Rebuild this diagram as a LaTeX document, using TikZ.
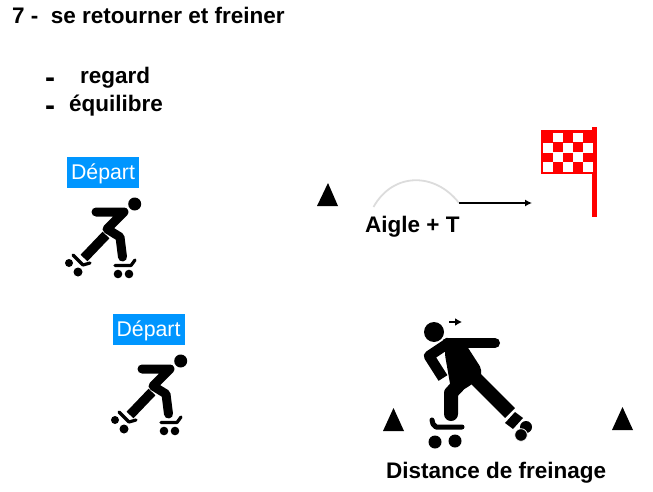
\documentclass[tikz,border=0pt]{standalone}
\usepackage{fontspec}
\setmainfont{Liberation Sans}
\usetikzlibrary{arrows.meta}
\tikzset{
 x=1pt,y=-1pt,
 lbl/.style={inner sep=0pt,anchor=base west,font=\fontsize{22.5}{26}\selectfont\bfseries},
 dashmark/.style={inner sep=0pt,anchor=base west,font=\fontsize{30}{32}\selectfont\bfseries},
 depart/.style={fill=cyan1,text=white,minimum width=72pt,minimum height=31pt,inner sep=0pt},
 departtext/.style={text=white,inner sep=0pt,font=\fontsize{21.3}{24}\selectfont},
 tri/.style={fill=black,draw=none},
 limb/.style={line width=#1,line cap=round,line join=round,draw=black},
 limb/.default=9pt,
 flow/.style={draw=black,line width=1.3pt,-{Latex[length=7pt,width=7pt]}},
 skater/.pic={
  \fill (134.7,204) circle (6.5);
  \draw[limb=9pt] (96,212) -- (124,212) -- (107,229) -- (120,237) -- (122.5,257);
  \draw[limb=9.5pt,line cap=butt] (106,235) -- (84,258);
  \draw[limb=3.2pt] (115,265.5) -- (131,265.5) -- (135,260);
  \draw[limb=3.2pt] (73,255) -- (83,265) -- (90,263);
  \fill (118,274) circle (4.3) (129,274) circle (4.3) (69,263) circle (4) (78,272) circle (4.5);
 }
}
\definecolor{cyan1}{RGB}{0,150,255}
\definecolor{flagred}{RGB}{255,0,0}
\definecolor{arcgray}{RGB}{220,220,220}
\begin{document}
\begin{tikzpicture}
\useasboundingbox (0,0) rectangle (653,492);
\node[lbl] (title) at (12,24) {7 -\ \ se retourner et freiner};
\node[dashmark] (d1) at (45,88) {-};
\node[lbl] (r) at (80,84) {regard};
\node[dashmark] (d2) at (45,115.5) {-};
\node[lbl] (e) at (69,112) {équilibre};
\node[depart] (dep1) at (103,172.5) {};
\node[departtext] at (103,173.5) {Départ};
\node[depart] (dep2) at (148.5,329.5) {};
\node[departtext] at (148.5,330.5) {Départ};
\pic (sk1) at (0,0) {skater};
\pic (sk2) at (46,157) {skater};
% cones
\fill[tri] (328,183) -- (338,206) -- (317,206) -- cycle;
\fill[tri] (393.5,408) -- (404,431) -- (383,431) -- cycle;
\fill[tri] (622.5,407) -- (633,430) -- (612,430) -- cycle;
% arc and arrow
\coordinate (a0) at (373.5,207);
\coordinate (a1) at (459,203);
\coordinate (a2) at (532,203);
\draw[arcgray,line width=1.8pt] (a0) .. controls (393,172) and (435,172) .. (a1);
\draw[flow] (a1) -- (a2);
\node[lbl] (aigle) at (365,232) {Aigle + T};
% flag
\fill[flagred] (541,130) rectangle (593,174);
\fill[flagred] (592,127) rectangle (597,217);
\foreach \cx/\cy in {553/133,573/133,543/143,563/143,583/143,553/152,573/152,543/162,563/162,583/162}
  \fill[white] (\cx,\cy) rectangle ++(9.7,9.5);
% big skater
\fill (434,332) circle (10);
\coordinate (m0) at (449,322);
\coordinate (m1) at (462,322);
\draw[black,line width=1.6pt,-{Latex[length=7pt,width=8pt]}] (m0) -- (m1);
\draw[limb=10pt] (447,343) -- (495,343);
\draw[limb=10.5pt,line cap=butt] (450,342) -- (429,356) -- (443,378);
\fill[rounded corners=2pt] (445,338) -- (463,340) -- (481,368) -- (481,377) -- (468,387) -- (452,395) -- (445,355) -- cycle;
\draw[limb=14pt] (468,375) -- (451,393) -- (451,414);
\draw[limb=14pt,line cap=butt] (472,375) -- (510,413);
\fill (515,412) -- (523,418) -- (513,429) -- (505,423) -- cycle;
\fill (526,427) circle (6);
\fill[draw=white,line width=0.8pt] (521,435) circle (6.3);
\draw[limb=5pt] (432,420) -- (433,424) -- (436,427) -- (462,427);
\fill (435,442) circle (6.5) (455,441) circle (6.5);
\node[lbl] (dist) at (386,478) {Distance de freinage};
\end{tikzpicture}
\end{document}
